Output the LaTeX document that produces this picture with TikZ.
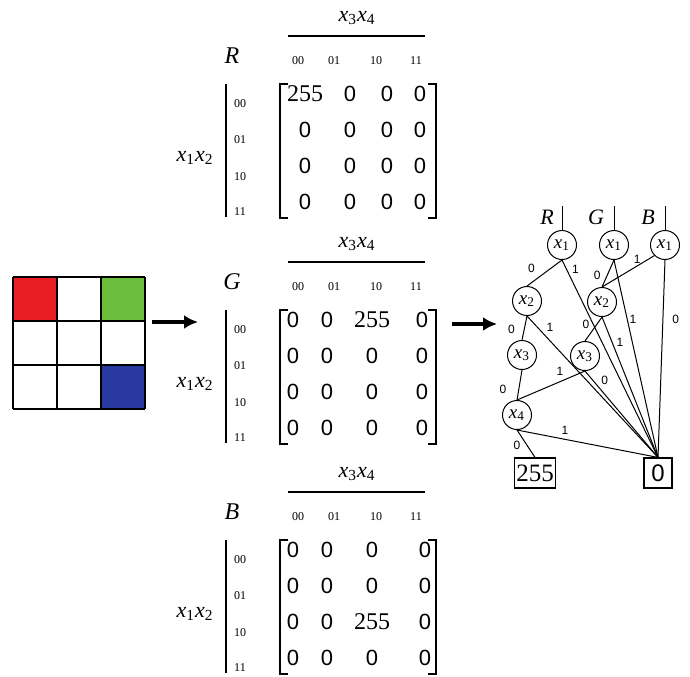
\documentclass[tikz,border=0pt]{standalone}
\usepackage{fontspec}
\setmainfont{Liberation Serif}
\setsansfont{Liberation Sans}
\usepackage{tikz}
\usetikzlibrary{arrows.meta}
\definecolor{pixred}{RGB}{232,30,36}
\definecolor{pixgreen}{RGB}{106,190,60}
\definecolor{pixblue}{RGB}{40,58,162}
\tikzset{>=latex}

\newcommand{\xs}[1]{\textit{x}\textsubscript{#1}}

\tikzset{
  entry/.style={font=\sffamily\fontsize{11}{11}\selectfont, inner sep=0pt},
  hot/.style={font=\fontsize{12}{12}\selectfont, inner sep=0pt},
  bits/.style={font=\fontsize{6}{6}\selectfont, inner sep=0pt},
  vars/.style={font=\fontsize{11}{11}\selectfont, inner sep=0pt},
  chan/.style={font=\itshape\fontsize{12}{12}\selectfont, inner sep=0pt},
  bdd/.style={circle, draw, line width=0.5pt, minimum size=14.5pt, inner sep=0pt,
    font=\fontsize{9.5}{9.5}\selectfont},
  leaf/.style={draw, line width=0.6pt, minimum height=15pt, inner sep=1pt},
  lbl/.style={font=\sffamily\fontsize{6}{6}\selectfont, inner sep=1pt},
  edge/.style={line width=0.5pt},
  bigarrow/.style={-{Latex[length=7pt,width=7pt]}, line width=1.6pt}
}

\begin{document}
\begin{tikzpicture}[x=0.5pt, y=-0.5pt]
\useasboundingbox (0,0) rectangle (690,676);

% ---------- Pixel grid ----------
\fill[pixred] (13,277) rectangle (57,321);
\fill[pixgreen] (101,277) rectangle (145,321);
\fill[pixblue] (101,365) rectangle (145,409);
\foreach \g in {13,57,101,145} {
  \draw[line width=0.8pt] (\g,277) -- (\g,409);
}
\foreach \g in {277,321,365,409} {
  \draw[line width=0.8pt] (13,\g) -- (145,\g);
}

% ---------- Arrows ----------
\coordinate (gridout) at (152,322);
\coordinate (matin) at (198,322);
\coordinate (matout) at (452,324);
\coordinate (bddin) at (497,324);
\draw[bigarrow] (gridout) -- (matin);
\draw[bigarrow] (matout) -- (bddin);

% ---------- Matrices R, G, B ----------
\foreach \M/\ty/\ca/\cb/\cc/\cd/\hr/\hk in
  {R/36/305/350/387/420/1/1, G/262/293/327/372/422/1/3, B/492/293/327/372/425/3/3} {
  \node[vars] (top\M) at (357,{\ty-18}) {\xs{3}\xs{4}};
  \draw[line width=0.7pt] (288,\ty) -- (425,\ty);
  \node[chan] (name\M) at (232,{\ty+20}) {\M};
  \foreach \cx/\lab in {298/00,334/01,376/10,416/11} {
    \node[bits] at (\cx,{\ty+25}) {\lab};
  }
  \draw[line width=0.6pt] (226,{\ty+48}) -- (226,{\ty+181});
  \foreach \dy/\lab in {68/00,104/01,141/10,176/11} {
    \node[bits] at (240,{\ty+\dy}) {\lab};
  }
  \node[vars] (side\M) at (195,{\ty+122}) {\xs{1}\xs{2}};
  % brackets
  \draw[line width=0.7pt] (288,{\ty+48}) -- (280,{\ty+48}) -- (280,{\ty+182}) -- (288,{\ty+182});
  \draw[line width=0.7pt] (428,{\ty+48}) -- (436,{\ty+48}) -- (436,{\ty+182}) -- (428,{\ty+182});
  % entries
  \foreach \r/\dy in {1/58,2/94,3/130,4/166} {
    \foreach \k/\cx in {1/\ca,2/\cb,3/\cc,4/\cd} {
      \pgfmathtruncatemacro\ishot{and(\r==\hr,\k==\hk)}
      \ifnum\ishot=1
        \node[hot] at (\cx,{\ty+\dy}) {255};
      \else
        \node[entry] at (\cx,{\ty+\dy}) {0};
      \fi
    }
  }
}

% ---------- Decision diagram ----------
\node[bdd] (Rx1) at (562,245) {\xs{1}};
\node[bdd] (Gx1) at (614,245) {\xs{1}};
\node[bdd] (Bx1) at (665,245) {\xs{1}};
\node[bdd] (Lx2) at (527,301) {\xs{2}};
\node[bdd] (Rx2) at (602,302) {\xs{2}};
\node[bdd] (Lx3) at (522,355) {\xs{3}};
\node[bdd] (Rx3) at (585,356) {\xs{3}};
\node[bdd] (x4) at (517,415) {\xs{4}};
\node[leaf, minimum width=20pt, font=\fontsize{12.5}{12.5}\selectfont] (b255) at (535,473) {255};
\node[leaf, minimum width=14pt, font=\sffamily\fontsize{12}{12}\selectfont] (b0) at (658,473) {0};

% roots
\coordinate (rootR) at (562,206);
\coordinate (rootG) at (614,206);
\coordinate (rootB) at (665,206);
\draw[edge] (Rx1) -- (rootR);
\draw[edge] (Gx1) -- (rootG);
\draw[edge] (Bx1) -- (rootB);
\node[chan, font=\itshape\fontsize{11}{11}\selectfont] (labR) at (547,217) {R};
\node[chan, font=\itshape\fontsize{11}{11}\selectfont] (labG) at (596,217) {G};
\node[chan, font=\itshape\fontsize{11}{11}\selectfont] (labB) at (648,217) {B};

% edges
\draw[edge] (Rx1.south) -- node[lbl, pos=.65, above left=1pt] {0} (Lx2.north);
\draw[edge] (Rx1.south) -- node[lbl, pos=.08, above right=0pt] {1} (b0.north);
\draw[edge] (Gx1.south) -- node[lbl, pos=.58, left=2pt] {0} (Rx2.north);
\draw[edge] (Gx1.south) -- node[lbl, pos=.30, right=0pt] {1} (b0.north);
\draw[edge] (Bx1.south west) -- node[lbl, pos=.33, above=0pt] {1} (Rx2.north);
\draw[edge] (Bx1.south) -- node[lbl, pos=.30, right=3.5pt] {0} (b0.north);
\draw[edge] (Lx2.south) -- node[lbl, pos=.55, left=3.5pt] {0} (Lx3.north);
\draw[edge] (Lx2.south) -- node[lbl, pos=.13, above right=0pt] {1} (b0.north);
\draw[edge] (Rx2.south) -- node[lbl, pos=.60, above left=0pt] {0} (Rx3.north);
\draw[edge] (Rx2.south) -- node[lbl, pos=.18, right=1pt] {1} (b0.north);
\draw[edge] (Lx3.south) -- node[lbl, pos=.63, left=5pt] {0} (x4.north);
\draw[edge] (Rx3.south) -- node[lbl, pos=.37, above=2pt] {1} (x4.north);
\draw[edge] (Rx3.south) -- node[lbl, pos=.19, above right=0pt] {0} (b0.north);
\draw[edge] (x4.south) -- node[lbl, pos=.32, below left=0pt] {0} (b255.north);
\draw[edge] (x4.south) -- node[lbl, pos=.34, above=1pt] {1} (b0.north);

\end{tikzpicture}
\end{document}
